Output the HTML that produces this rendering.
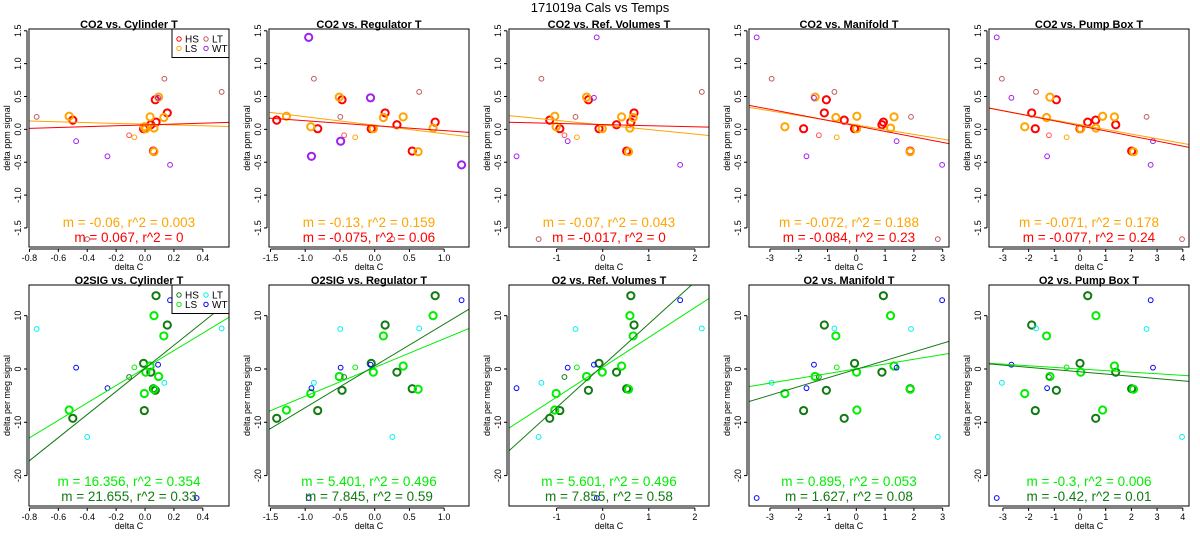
<!DOCTYPE html>
<html><head><meta charset="utf-8"><style>
html,body{margin:0;padding:0;background:#fff;}
svg{display:block;font-family:"Liberation Sans",sans-serif;}
</style></head><body>
<svg id="chart" width="1200" height="550" viewBox="0 0 1200 550" xmlns="http://www.w3.org/2000/svg">
<text x="600" y="12" text-anchor="middle" font-size="13">171019a   Cals vs Temps</text>
</svg>
<script>
// ---- data ----
const sampleCat = ['HS','HS','HS','HS','HS','HS','HS','HS','LS','LS','LS','LS','LS','LS','LS','LS','LT','LT','LT','LT','HSt','LSt','WT','WT','WT','WT','WT'];
const co2Vals = [0.14,0.45,0.11,0.25,-0.33,0.01,0.07,0.01,0.20,0.49,0.19,0.18,0.02,0.01,0.04,-0.34,0.19,0.77,0.57,-1.67,-0.09,-0.12,-0.18,-0.41,-0.54,0.48,1.40];
const o2Vals = [-9.25,-4.0,13.75,8.25,-3.7,1.06,-0.6,-7.8,-7.7,-1.4,0.56,6.2,10.0,-0.6,-4.6,-3.8,7.5,-2.6,7.6,-12.75,-1.5,0.3,0.25,-3.6,12.9,0.8,-24.2];
const xCylinder = [-0.50,0.071,0.076,0.154,0.058,-0.01,0.04,-0.005,-0.525,0.094,0.035,0.13,0.062,0.005,-0.005,0.062,-0.75,0.134,0.53,-0.40,-0.11,-0.074,-0.477,-0.26,0.173,0.09,0.357];
const xRegulator = [-1.41,-0.47,0.87,0.15,0.54,-0.05,0.32,-0.82,-1.27,-0.51,0.41,0.125,0.84,-0.02,-0.92,0.625,-0.495,-0.875,0.64,0.255,-0.44,-0.28,-0.49,-0.91,1.25,-0.06,-0.95];
const xRefVol = [-1.15,-0.31,0.61,0.68,0.52,-0.08,0.30,-0.93,-1.04,-0.35,0.41,0.66,0.59,-0.01,-1.01,0.56,-0.59,-1.33,2.15,-1.39,-0.83,-0.56,-0.76,-1.87,1.68,-0.19,-0.13];
const xManifold = [-0.42,-1.04,0.94,-1.11,1.87,-0.06,0.89,-1.83,0.02,-1.43,1.31,-0.71,1.19,0.01,-2.48,1.87,1.90,-2.94,-0.76,2.83,-1.30,-0.68,1.40,-1.73,2.98,-1.47,-3.46];
const xPumpBox = [0.61,-0.92,0.30,-1.88,2.01,0.0,1.39,-1.74,0.88,-1.17,1.34,-1.30,0.62,0.03,-2.15,2.08,2.59,-3.04,-1.71,3.97,-1.21,-0.52,2.84,-1.28,2.75,-2.67,-3.24];
const xColumns = [xCylinder,xRegulator,xRefVol,xManifold,xPumpBox];
const topTitles = ['CO2 vs. Cylinder T','CO2 vs. Regulator T','CO2 vs. Ref. Volumes T','CO2 vs. Manifold T','CO2 vs. Pump Box T'];
const botTitles = ['O2SIG vs. Cylinder T','O2SIG vs. Regulator T','O2 vs. Ref. Volumes T','O2 vs. Manifold T','O2 vs. Pump Box T'];
const xMin = [-0.803,-1.521,-2.033,-3.726,-3.541];
const xMax = [0.581,1.357,2.306,3.219,4.241];
const xTickVals = [[-0.8,-0.6,-0.4,-0.2,0.0,0.2,0.4],[-1.5,-1.0,-0.5,0.0,0.5,1.0],[-1,0,1,2],[-3,-2,-1,0,1,2,3],[-3,-2,-1,0,1,2,3,4]];
const xTickLabels = [['-0.8','-0.6','-0.4','-0.2','0.0','0.2','0.4'],['-1.5','-1.0','-0.5','0.0','0.5','1.0'],['-1','0','1','2'],['-3','-2','-1','0','1','2','3'],['-3','-2','-1','0','1','2','3','4']];
const topYTicks = [-1.5,-1.0,-0.5,0.0,0.5,1.0,1.5];
const topYLabels = ['-1.5','-1.0','-0.5','0.0','0.5','1.0','1.5'];
const botYTicks = [-20,-10,0,10];
const botYLabels = ['-20','-10','0','10'];
const topSlopeHS = [0.067,-0.075,-0.017,-0.084,-0.077];
const topIntHS = [0.068,0.056,0.073,0.053,0.053];
const topSlopeLS = [-0.06,-0.13,-0.07,-0.072,-0.071];
const topIntLS = [0.079,0.063,0.067,0.067,0.07];
const botSlopeHS = [21.655,7.845,7.855,1.627,-0.42];
const botIntHS = [0.12,0.58,0.62,-0.05,-0.54];
const botSlopeLS = [16.356,5.401,5.601,0.895,-0.3];
const botIntLS = [0.18,0.28,0.31,0.03,0.0];
const topLabelLS = ['m = -0.06, r^2 = 0.003','m = -0.13, r^2 = 0.159','m = -0.07, r^2 = 0.043','m = -0.072, r^2 = 0.188','m = -0.071, r^2 = 0.178'];
const topLabelHS = ['m = 0.067, r^2 = 0','m = -0.075, r^2 = 0.06','m = -0.017, r^2 = 0','m = -0.084, r^2 = 0.23','m = -0.077, r^2 = 0.24'];
const botLabelLS = ['m = 16.356, r^2 = 0.354','m = 5.401, r^2 = 0.496','m = 5.601, r^2 = 0.496','m = 0.895, r^2 = 0.053','m = -0.3, r^2 = 0.006'];
const botLabelHS = ['m = 21.655, r^2 = 0.33','m = 7.845, r^2 = 0.59','m = 7.855, r^2 = 0.58','m = 1.627, r^2 = 0.08','m = -0.42, r^2 = 0.01'];

// ---- styling ----
const NS='http://www.w3.org/2000/svg';
const svg=document.getElementById('chart');
const topColors={HS:'#ff0000',LS:'#ffa500',LT:'#c05858',WT:'#a020f0',HSt:'#ff5555',LSt:'#ffa500'};
const botColors={HS:'#127a12',LS:'#00ee00',LT:'#00eeee',WT:'#0000ff',HSt:'#127a12',LSt:'#00ee00'};
const rows=[
 {top:29,bot:247,yMin:-1.79,yMax:1.527,vals:co2Vals,colors:topColors,titles:topTitles,yt:topYTicks,yl:topYLabels,sH:topSlopeHS,iH:topIntHS,sL:topSlopeLS,iL:topIntLS,lL:topLabelLS,lH:topLabelHS,ylab:'delta ppm signal',key:'co2'},
 {top:285,bot:506,yMin:-25.7,yMax:15.75,vals:o2Vals,colors:botColors,titles:botTitles,yt:botYTicks,yl:botYLabels,sH:botSlopeHS,iH:botIntHS,sL:botSlopeLS,iL:botIntLS,lL:botLabelLS,lH:botLabelHS,ylab:'delta per meg signal',key:'o2'}
];
function mk(tag,attrs,parent){const e=document.createElementNS(NS,tag);for(const k in attrs)e.setAttribute(k,attrs[k]);(parent||svg).appendChild(e);return e;}
function txt(s,attrs,parent){const e=mk('text',attrs,parent);e.textContent=s;return e;}

rows.forEach((row,ri)=>{
 for(let c=0;c<5;c++){
  const L=29+240*c,R=L+200;
  const xs=v=>L+(v-xMin[c])/(xMax[c]-xMin[c])*200;
  const ys=v=>row.bot-(v-row.yMin)/(row.yMax-row.yMin)*(row.bot-row.top);
  const g=mk('g',{});
  
  
  const cid='clip'+ri+c;
  const cp=mk('clipPath',{id:cid},g);mk('rect',{x:L,y:row.top,width:200,height:row.bot-row.top},cp);
  const t=txt(row.titles[c],{x:L+100,y:row.top-1,'text-anchor':'middle','font-size':'11','font-weight':'bold'},g);
  
  // points
  const pg=mk('g',{'clip-path':'url(#'+cid+')'},g);
  const xv=xColumns[c];
  sampleCat.forEach((cat,i)=>{
   if(xv[i]==null)return;
   const thick=(cat==='HS'||cat==='LS')||(ri===0&&c===1&&cat==='WT');
   const p=mk('circle',{cx:xs(xv[i]),cy:ys(row.vals[i]),r:thick?3.6:2.4,fill:'none',stroke:row.colors[cat],'stroke-width':thick?2:1},pg);
   
   
  });
  // fit lines
  [[row.sL[c],row.iL[c],row.colors.LS,'fit-line-ls'],[row.sH[c],row.iH[c],row.colors.HS,'fit-line-hs']].forEach(([m,b,col,nm])=>{
   const ln=mk('line',{x1:L,y1:ys(b+m*xMin[c]),x2:R,y2:ys(b+m*xMax[c]),stroke:col,'stroke-width':1},pg);
   
   
  });
  // box
  const bx=mk('rect',{x:L,y:row.top,width:200,height:row.bot-row.top,fill:'none',stroke:'#000','stroke-width':1},g);
  
  // x axis
  const tv=xTickVals[c];
  const ax=mk('line',{x1:xs(tv[0]),y1:row.bot+2,x2:xs(tv[tv.length-1]),y2:row.bot+2,stroke:'#000'},g);
  
  tv.forEach((v,k)=>{
   mk('line',{x1:xs(v),y1:row.bot+2,x2:xs(v),y2:row.bot+5,stroke:'#000'},g);
   const tl=txt(xTickLabels[c][k],{x:xs(v),y:row.bot+14,'text-anchor':'middle','font-size':'9'},g);
   
  });
  const xl=txt('delta C',{x:L+100,y:row.bot+23,'text-anchor':'middle','font-size':'9'},g);
  
  // y axis
  const yt=row.yt;
  const ay=mk('line',{x1:L-2,y1:ys(yt[0]),x2:L-2,y2:ys(yt[yt.length-1]),stroke:'#000'},g);
  
  yt.forEach((v,k)=>{
   mk('line',{x1:L-5,y1:ys(v),x2:L-2,y2:ys(v),stroke:'#000'},g);
   const yl=txt(row.yl[k],{x:0,y:0,'text-anchor':'middle','font-size':'9',transform:'translate('+(L-8)+','+ys(v)+') rotate(-90)'},g);
   
  });
  const ylab=txt(row.ylab,{x:0,y:0,'text-anchor':'middle','font-size':'9',transform:'translate('+(L-19)+','+((row.top+row.bot)/2)+') rotate(-90)'},g);
  
  // annotations
  const a1=txt(row.lL[c],{x:L+100,y:row.bot-20,'text-anchor':'middle','font-size':'13.5',fill:row.colors.LS},g);
  
  const a2=txt(row.lH[c],{x:L+100,y:row.bot-5,'text-anchor':'middle','font-size':'13.5',fill:row.colors.HS},g);
  
  // legend
  if(c===0){
   const lg=mk('g',{},g);
   
   mk('rect',{x:L+143,y:row.top,width:57,height:28.5,fill:'#fff',stroke:'#000'},lg);
   [['HS',0,0],['LS',0,1],['LT',1,0],['WT',1,1]].forEach(([nm,col,r])=>{
    const cx=L+150+col*27,cy=row.top+10+r*9.4;
    const e=mk('g',{},lg);
    
    
    mk('circle',{cx:cx,cy:cy,r:2.2,fill:'none',stroke:row.colors[nm],'stroke-width':1},e);
    txt(nm,{x:cx+6,y:cy+3.5,'font-size':'10'},e);
   });
  }
 }
});
</script>
</body></html>
